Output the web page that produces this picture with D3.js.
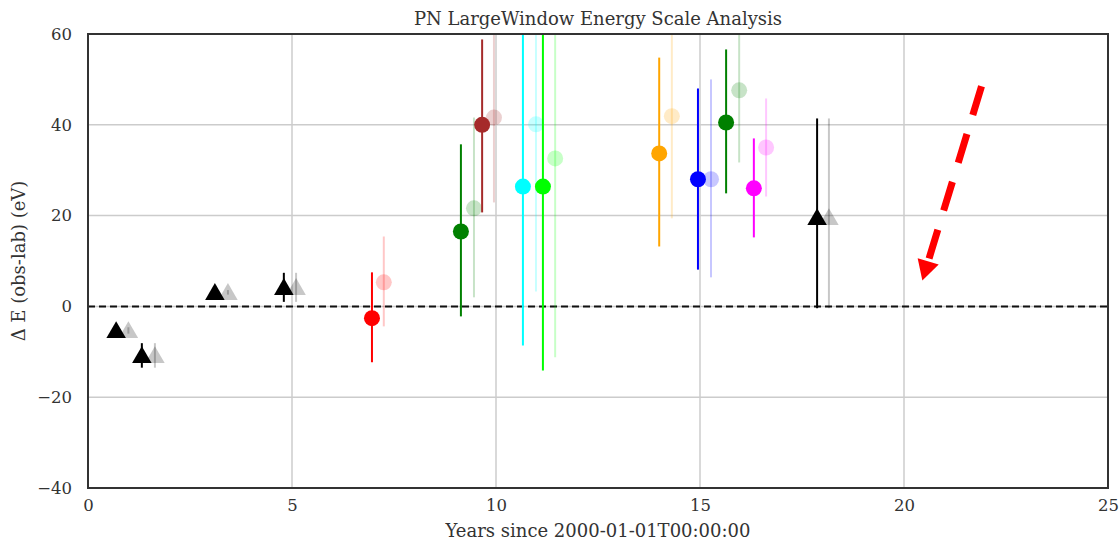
<!DOCTYPE html>
<html><head><meta charset="utf-8">
<script src="https://cdn.jsdelivr.net/npm/d3@7"></script>
<style>body{margin:0;background:#fff}svg{display:block}</style>
</head><body>
<script>
const years = [0.69, 1.32, 3.11, 4.80, 6.96, 9.14, 9.66, 10.66, 11.15, 14.00, 14.95, 15.64, 16.32, 17.87];
const dE = [-5.3, -10.8, 3.1, 4.2, -2.6, 16.5, 40.0, 26.4, 26.4, 33.7, 28.0, 40.5, 26.0, 19.6];
const errLow = [-6.0, -13.5, 2.6, 1.0, -12.3, -2.2, 20.7, -8.6, -14.1, 13.2, 8.1, 24.9, 15.2, -0.4];
const errHigh = [-4.6, -8.1, 3.6, 7.4, 7.5, 35.7, 58.8, 61.4, 66.9, 54.8, 48.0, 56.6, 37.0, 41.4];
const fadedYears = [0.99, 1.64, 3.43, 5.10, 7.25, 9.46, 9.95, 10.98, 11.45, 14.31, 15.27, 15.96, 16.62, 18.16];
const fadedE = [-5.3, -10.8, 3.1, 4.2, 5.3, 21.6, 41.6, 40.1, 32.6, 41.9, 28.0, 47.6, 35.0, 19.6];
const fadedLow = [-6.0, -13.5, 2.6, 1.0, -4.4, 2.0, 22.9, 3.3, -11.2, 19.4, 6.4, 31.7, 24.2, -0.4];
const fadedHigh = [-4.6, -8.1, 3.6, 7.4, 15.4, 41.6, 61.0, 76.9, 76.4, 64.4, 50.0, 63.5, 45.8, 41.4];
const colors = ["black","black","black","black","red","green","brown","cyan","lime","orange","blue","green","magenta","black"];
const markers = ["tri","tri","tri","tri","circ","circ","circ","circ","circ","circ","circ","circ","circ","tri"];
const xTicks = [0, 5, 10, 15, 20, 25];
const yTicks = [-40, -20, 0, 20, 40, 60];
const arrowFrom = [21.9, 48.5];
const arrowTo = [20.45, 5.7];

const W = 1119, H = 540;
const m = {l: 88, r: 11, t: 34, b: 52};
const svg = d3.select("body").append("svg").attr("width", W).attr("height", H);
const x = d3.scaleLinear().domain([0, 25]).range([m.l, W - m.r]);
const y = d3.scaleLinear().domain([-40, 60]).range([H - m.b, m.t]);
const font = "DejaVu Serif";

svg.append("defs").append("clipPath").attr("id", "clip").append("rect")
  .attr("x", m.l).attr("y", m.t).attr("width", W - m.l - m.r).attr("height", H - m.t - m.b);

// grid
const g = svg.append("g");
g.selectAll(".vg").data(xTicks.slice(1, -1)).join("line")
  .attr("x1", d => x(d)).attr("x2", d => x(d)).attr("y1", m.t).attr("y2", H - m.b)
  .attr("stroke", "#cccccc").attr("stroke-width", 1.5);
g.selectAll(".hg").data(yTicks.slice(1, -1)).join("line")
  .attr("y1", d => y(d)).attr("y2", d => y(d)).attr("x1", m.l).attr("x2", W - m.r)
  .attr("stroke", "#cccccc").attr("stroke-width", 1.5);

// axes
const xAxis = svg.append("g").attr("transform", `translate(0,${H - m.b})`)
  .call(d3.axisBottom(x).tickValues(xTicks).tickSize(0).tickPadding(11).tickFormat(d3.format("d")));
const yAxis = svg.append("g").attr("transform", `translate(${m.l},0)`)
  .call(d3.axisLeft(y).tickValues(yTicks).tickSize(0).tickPadding(16).tickFormat(d => d < 0 ? "\u2212" + Math.abs(d) : d));
[xAxis, yAxis].forEach(a => {
  a.select(".domain").remove();
  a.selectAll("text").attr("font-family", font).attr("font-size", 16.5).attr("fill", "#333");
});

const plot = svg.append("g").attr("clip-path", "url(#clip)");

// zero line
plot.append("line").attr("x1", m.l).attr("x2", W - m.r).attr("y1", y(0)).attr("y2", y(0))
  .attr("stroke", "#111").attr("stroke-width", 2).attr("stroke-dasharray", "7,4");

const idx = d3.range(years.length);
const triPath = d3.symbol().type(d3.symbolTriangle).size(165);

function drawSet(xs, es, lo, hi, op) {
  const s = plot.append("g");
  s.selectAll("line.e").data(idx).join("line")
    .attr("x1", i => x(xs[i])).attr("x2", i => x(xs[i]))
    .attr("y1", i => y(lo[i])).attr("y2", i => y(hi[i]))
    .attr("stroke", i => colors[i]).attr("stroke-width", 2).attr("stroke-opacity", op);
  s.selectAll("circle").data(idx.filter(i => markers[i] === "circ")).join("circle")
    .attr("cx", i => x(xs[i])).attr("cy", i => y(es[i])).attr("r", 8)
    .attr("fill", i => colors[i]).attr("fill-opacity", op);
  s.selectAll("path").data(idx.filter(i => markers[i] === "tri")).join("path")
    .attr("d", triPath)
    .attr("transform", i => `translate(${x(xs[i])},${y(es[i]) + 2})`)
    .attr("fill", i => colors[i]).attr("fill-opacity", op);
}
drawSet(fadedYears, fadedE, fadedLow, fadedHigh, 0.22);
drawSet(years, dE, errLow, errHigh, 1);

// arrow
const ax0 = x(arrowFrom[0]), ay0 = y(arrowFrom[1]), ax1 = x(arrowTo[0]), ay1 = y(arrowTo[1]);
const ang = Math.atan2(ay1 - ay0, ax1 - ax0);
const headLen = 20, headW = 11;
const bx = ax1 - headLen * Math.cos(ang), by = ay1 - headLen * Math.sin(ang);
plot.append("line").attr("x1", ax0).attr("y1", ay0).attr("x2", bx).attr("y2", by)
  .attr("stroke", "red").attr("stroke-width", 7).attr("stroke-dasharray", "30,20");
const px = -Math.sin(ang), py = Math.cos(ang);
plot.append("path")
  .attr("d", `M${ax1},${ay1}L${bx + px * headW},${by + py * headW}L${bx - px * headW},${by - py * headW}Z`)
  .attr("fill", "red");

// frame
svg.append("rect").attr("x", m.l).attr("y", m.t).attr("width", W - m.l - m.r).attr("height", H - m.t - m.b)
  .attr("fill", "none").attr("stroke", "#333").attr("stroke-width", 2);

// labels
svg.append("text").attr("x", (m.l + W - m.r) / 2).attr("y", 25).attr("text-anchor", "middle")
  .attr("font-family", font).attr("font-size", 18).attr("fill", "#333")
  .text("PN LargeWindow Energy Scale Analysis");
svg.append("text").attr("x", (m.l + W - m.r) / 2).attr("y", 537).attr("text-anchor", "middle")
  .attr("font-family", font).attr("font-size", 18).attr("fill", "#333")
  .text("Years since 2000-01-01T00:00:00");
svg.append("text").attr("transform", `translate(25,${(m.t + H - m.b) / 2}) rotate(-90)`).attr("text-anchor", "middle")
  .attr("font-family", font).attr("font-size", 18).attr("fill", "#333")
  .text("\u0394 E (obs-lab) (eV)");
</script>
</body></html>
